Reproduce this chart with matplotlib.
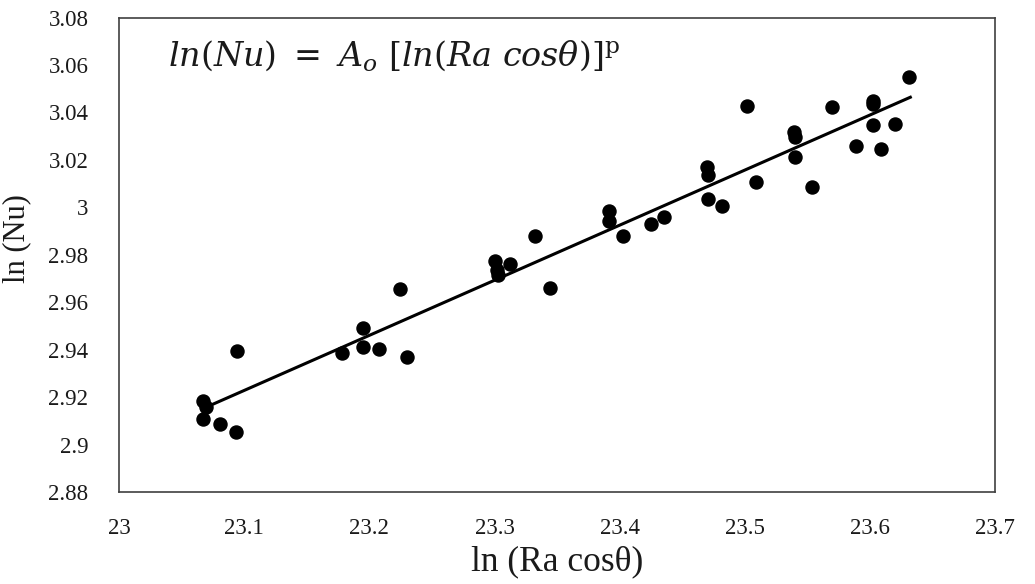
import matplotlib
matplotlib.use("Agg")
import matplotlib.pyplot as plt
import numpy as np

# Data
ln_ra_cos = [23.067, 23.0695, 23.067, 23.081, 23.0935, 23.0943, 23.178, 23.195, 23.195,
             23.208, 23.2246, 23.230, 23.3006, 23.302, 23.303, 23.3125, 23.3325, 23.3445,
             23.3917, 23.3917, 23.403, 23.4253, 23.4357, 23.470, 23.4708, 23.4708, 23.482,
             23.502, 23.509, 23.5396, 23.5404, 23.5404, 23.554, 23.570, 23.589, 23.6027,
             23.6027, 23.6027, 23.609, 23.620, 23.6315]
ln_nu = [2.9182, 2.9157, 2.9106, 2.9085, 2.9055, 2.9393, 2.9384, 2.9490, 2.9410,
         2.9401, 2.9654, 2.9368, 2.9773, 2.9735, 2.9714, 2.9760, 2.9878, 2.9659,
         2.9984, 2.9941, 2.9878, 2.9929, 2.9958, 3.0169, 3.0135, 3.0034, 3.0005,
         3.0427, 3.0106, 3.0317, 3.0296, 3.0211, 3.0085, 3.0422, 3.0258, 3.0448,
         3.0435, 3.0346, 3.0245, 3.0351, 3.0549]

# Trend line end points
trend_x = [23.0711, 23.6323]
trend_y = [2.9161, 3.0464]

x_ticks = [23, 23.1, 23.2, 23.3, 23.4, 23.5, 23.6, 23.7]
x_tick_labels = ["23", "23.1", "23.2", "23.3", "23.4", "23.5", "23.6", "23.7"]
y_ticks = [2.88, 2.90, 2.92, 2.94, 2.96, 2.98, 3.00, 3.02, 3.04, 3.06, 3.08]
y_tick_labels = ["2.88", "2.9", "2.92", "2.94", "2.96", "2.98", "3", "3.02", "3.04", "3.06", "3.08"]

plt.rcParams['font.family'] = ['Liberation Serif', 'DejaVu Serif']
plt.rcParams['mathtext.fontset'] = 'dejavuserif'

fig = plt.figure(figsize=(10.35, 5.84), dpi=100)
ax = fig.add_axes([0.115, 0.1575, 0.8464, 0.8125])

ax.plot(trend_x, trend_y, color='black', linewidth=2.2, zorder=2)
ax.plot(ln_ra_cos, ln_nu, linestyle='none', marker='o', markersize=9.4,
        color='black', zorder=3)

ax.set_xlim(23, 23.7)
ax.set_ylim(2.88, 3.08)
ax.set_xticks(x_ticks)
ax.set_xticklabels(x_tick_labels)
ax.set_yticks(y_ticks)
ax.set_yticklabels(y_tick_labels)
ax.tick_params(axis='both', length=0, labelsize=16.5, colors='#1a1a1a')
ax.tick_params(axis='x', pad=19)
ax.tick_params(axis='y', pad=22)

for s in ax.spines.values():
    s.set_color('#404040')
    s.set_linewidth(1.2)

ax.set_xlabel("ln (Ra cosθ)", fontsize=25.5, color='#1a1a1a')
ax.set_ylabel("ln (Nu)", fontsize=22, color='#1a1a1a')
ax.xaxis.set_label_coords(0.5, -0.112)
ax.yaxis.set_label_coords(-0.1, 0.535)

ax.text(0.056, 0.92, r"$ln(Nu)\ =\ A_o\ [ln(Ra\ cos\theta)]^{\mathrm{p}}$",
        transform=ax.transAxes, fontsize=24, ha='left', va='center', color='#1a1a1a')

fig.savefig("out.png", dpi=100)
